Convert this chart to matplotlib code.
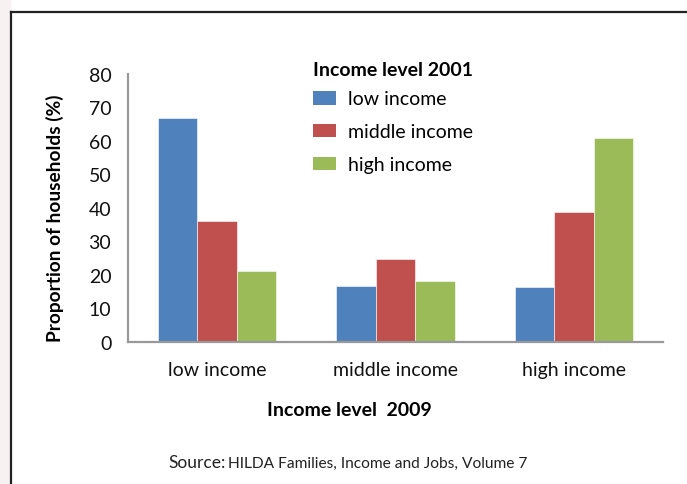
import matplotlib
matplotlib.use("Agg")
import matplotlib.pyplot as plt
from matplotlib.patches import Patch, Rectangle
from matplotlib.lines import Line2D
import numpy as np

plt.rcParams['font.family'] = ['Lato', 'DejaVu Sans']

categories = ['low income', 'middle income', 'high income']
series_names = ['low income', 'middle income', 'high income']
low_2001 = [66.8, 16.8, 16.4]
middle_2001 = [36.2, 24.7, 38.9]
high_2001 = [21.1, 18.3, 60.8]
colors = ['#4f81bd', '#c0504d', '#9bbb59']

W, H = 687, 485
fig = plt.figure(figsize=(W / 100, H / 100), dpi=100)

# pinkish strip + frame lines like the screenshot
fig.add_artist(Rectangle((0, 0), 10 / W, 1, transform=fig.transFigure, color='#f8f1f2', zorder=0))
fig.add_artist(Line2D([11 / W, 11 / W], [0, 1 - 13 / H], transform=fig.transFigure, color='#222222', lw=1.6))
fig.add_artist(Line2D([11 / W, 1], [1 - 13 / H, 1 - 13 / H], transform=fig.transFigure, color='#222222', lw=1.6))

ax = fig.add_axes([128 / W, 1 - 343 / H, (663 - 128) / W, (343 - 75) / H])

x = np.arange(len(categories))
bw = 0.221
for k, (vals, c, name) in enumerate(zip([low_2001, middle_2001, high_2001], colors, series_names)):
    ax.bar(x + (k - 1) * bw, vals, bw, color=c, label=name, edgecolor='white', linewidth=0.4, zorder=2)

ax.set_xlim(-0.5, 2.5)
ax.set_ylim(0, 80)
ax.set_yticks(range(0, 81, 10))
ax.set_xticks(x)
ax.set_xticklabels(categories)
ax.tick_params(length=0, labelsize=14, colors='#111111')
ax.tick_params(axis='y', pad=12)
ax.tick_params(axis='x', pad=14)
for s in ['top', 'right']:
    ax.spines[s].set_visible(False)
for s in ['left', 'bottom']:
    ax.spines[s].set_color('#999999')
    ax.spines[s].set_linewidth(1.6)

fig.text(55 / W, 1 - 218 / H, 'Proportion of households (%)', rotation=90, ha='center', va='center',
         fontsize=13.8, fontweight='bold')
fig.text(349 / W, 1 - 411 / H, 'Income level  2009', ha='center', va='center', fontsize=14, fontweight='bold')
fig.text(168 / W, 1 - 463 / H, 'Source:', ha='left', va='center', fontsize=12.5, color='#222222')
fig.text(228 / W, 1 - 464 / H, 'HILDA Families, Income and Jobs, Volume 7', ha='left', va='center',
         fontsize=11.2, color='#222222')

handles = [Patch(facecolor=c) for c in colors]
leg = ax.legend(handles, series_names, title='Income level 2001', loc='upper left',
                bbox_to_anchor=(313 / W, 1 - 62 / H), bbox_transform=fig.transFigure,
                frameon=False, fontsize=14, title_fontproperties={'weight': 'bold', 'size': 14},
                handlelength=1.2, handleheight=0.7, handletextpad=0.62, labelspacing=0.82,
                alignment='left', borderaxespad=0, borderpad=0)
leg._legend_box.sep = 9

fig.savefig('out.png', dpi=100)
